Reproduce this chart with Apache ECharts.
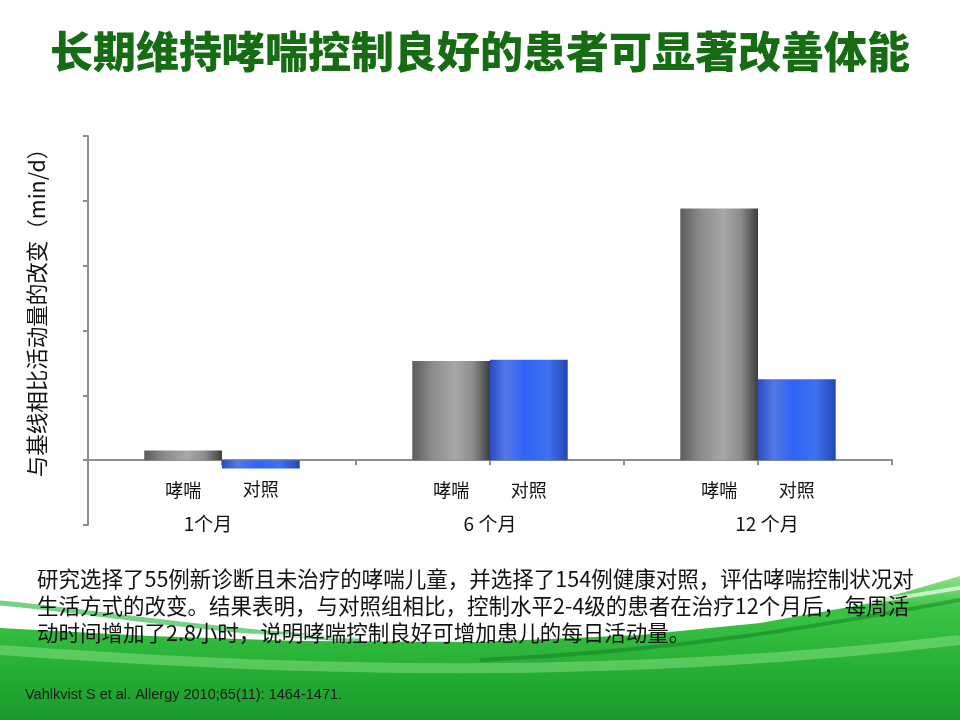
<!DOCTYPE html>
<html>
<head>
<meta charset="utf-8">
<script src="https://cdn.jsdelivr.net/npm/echarts@6/dist/echarts.min.js"></script>
<style>
  html, body { margin: 0; padding: 0; background: #fff; }
  #chart { width: 960px; height: 720px; }
</style>
</head>
<body>
<div id="chart"></div>
<script>
// 数据
const months = ['1个月', '6 个月', '12 个月']
const groupNames = ['哮喘', '对照']
const asthmaVals = [1.5, 15.3, 38.8]
const controlVals = [-1.3, 15.5, 12.5]
const yTicks = [-10, 0, 10, 20, 30, 40, 50]

const titleText = '长期维持哮喘控制良好的患者可显著改善体能'
const bodyLines = [
  '研究选择了55例新诊断且未治疗的哮喘儿童，并选择了154例健康对照，评估哮喘控制状况对',
  '生活方式的改变。结果表明，与对照组相比，控制水平2-4级的患者在治疗12个月后，每周活',
  '动时间增加了2.8小时，说明哮喘控制良好可增加患儿的每日活动量。'
]
const citation = 'Vahlkvist S et al. Allergy 2010;65(11): 1464-1471.'

const CJK = '"Noto Sans CJK SC", "Noto Sans", sans-serif'

const greyBar = {
  type: 'linear', x: 0, y: 0, x2: 1, y2: 0,
  colorStops: [
    { offset: 0, color: '#5c5c5c' },
    { offset: 0.25, color: '#8a8a8a' },
    { offset: 0.55, color: '#a8a8a8' },
    { offset: 0.78, color: '#8c8c8c' },
    { offset: 1, color: '#3e3e3e' }
  ]
}
const blueBar = {
  type: 'linear', x: 0, y: 0, x2: 1, y2: 0,
  colorStops: [
    { offset: 0, color: '#2a4cc0' },
    { offset: 0.2, color: '#5478e6' },
    { offset: 0.45, color: '#2f63f5' },
    { offset: 0.75, color: '#3f70ee' },
    { offset: 1, color: '#2446b4' }
  ]
}

// 负值柱子标签距离要短一点
function withLabelDist(vals) {
  return vals.map(v => v < 0 ? { value: v, label: { distance: 12 } } : v)
}

// 原图里两侧的月份标签略微偏离中心
const monthPad = [[0, 28, 0, 0], [0, 0, 0, 0], [0, 0, 0, 18]]
const monthData = months.map((m, i) => ({ value: m, textStyle: { padding: monthPad[i] } }))

const chart = echarts.init(document.getElementById('chart'))

const option = {
  backgroundColor: '#ffffff',
  animation: false,
  title: [
    {
      text: titleText,
      left: 'center', top: 25,
      textStyle: { fontFamily: CJK, fontSize: 43, fontWeight: 900, color: '#156c12' }
    },
    {
      text: bodyLines.join('\n'),
      left: 32, top: 560,
      textStyle: { fontFamily: CJK, fontSize: 21.5, fontWeight: 'normal', color: '#111', lineHeight: 27 }
    },
    {
      text: citation,
      left: 20, top: 682,
      textStyle: { fontFamily: '"Liberation Sans Narrow", "Liberation Sans", sans-serif', fontSize: 14.5, fontWeight: 'normal', color: '#1a1a1a' }
    }
  ],
  // 底部绿色波浪背景
  graphic: [
    {
      type: 'polygon', z: -10, silent: true,
      shape: {
        points: [[0, 628], [150, 636], [300, 641], [480, 642], [640, 635], [760, 623],
          [860, 605], [960, 576], [960, 720], [0, 720]]
      },
      style: {
        fill: {
          type: 'linear', x: 0, y: 0, x2: 0, y2: 1,
          colorStops: [
            { offset: 0, color: '#8fe38a' },
            { offset: 0.22, color: '#3cc445' },
            { offset: 0.65, color: '#25af35' },
            { offset: 1, color: '#1a9a2c' }
          ]
        }
      }
    },
    {
      type: 'bezierCurve', z: -9, silent: true,
      shape: { x1: 0, y1: 603, cpx1: 80, cpy1: 610, cpx2: 200, cpy2: 630, x2: 360, y2: 640 },
      style: { fill: null, stroke: 'rgba(60,190,80,0.7)', lineWidth: 5 }
    },
    {
      type: 'bezierCurve', z: -9, silent: true,
      shape: { x1: 0, y1: 620, cpx1: 300, cpy1: 650, cpx2: 650, cpy2: 640, x2: 960, y2: 588 },
      style: { fill: null, stroke: 'rgba(255,255,255,0.65)', lineWidth: 4 }
    },
    {
      type: 'bezierCurve', z: -9, silent: true,
      shape: { x1: 480, y1: 660, cpx1: 700, cpy1: 650, cpx2: 850, cpy2: 620, x2: 960, y2: 600 },
      style: { fill: null, stroke: 'rgba(15,120,35,0.45)', lineWidth: 4 }
    },
    {
      type: 'bezierCurve', z: -9, silent: true,
      shape: { x1: 0, y1: 650, cpx1: 300, cpy1: 672, cpx2: 620, cpy2: 680, x2: 960, y2: 640 },
      style: { fill: null, stroke: 'rgba(180,245,170,0.35)', lineWidth: 10 }
    }
  ],
  grid: { left: 88, right: 68, top: 136, bottom: 195, containLabel: false },
  xAxis: [
    {
      type: 'category',
      data: monthData,
      axisLine: { onZero: true, lineStyle: { color: '#8e8e8e', width: 2 } },
      axisTick: { show: false },
      axisLabel: { margin: -11, fontFamily: CJK, fontSize: 19, color: '#111' }
    },
    {
      // 只画刻度：每个柱子边界一个刻度
      type: 'category',
      data: ['', '', '', '', '', ''],
      position: 'bottom',
      axisLine: { show: false, onZero: true, onZeroAxisIndex: 0 },
      axisTick: { show: true, length: 5, lineStyle: { color: '#8e8e8e', width: 2 } },
      axisLabel: { show: false }
    }
  ],
  yAxis: {
    type: 'value',
    min: yTicks[0], max: yTicks[yTicks.length - 1], interval: 10,
    name: '与基线相比活动量的改变（min/d）',
    nameLocation: 'middle', nameRotate: 90, nameGap: 40,
    nameTextStyle: { fontFamily: CJK, fontSize: 21.5, color: '#111', padding: [0, 0, 0, 46] },
    axisLine: { show: true, lineStyle: { color: '#8e8e8e', width: 2 } },
    axisTick: { show: true, length: 5, lineStyle: { color: '#8e8e8e', width: 2 } },
    axisLabel: { show: false },
    splitLine: { show: false }
  },
  series: [
    {
      name: groupNames[0], type: 'bar', xAxisIndex: 0,
      data: withLabelDist(asthmaVals),
      barGap: '0%', barCategoryGap: '42%',
      itemStyle: { color: greyBar },
      label: { show: true, position: 'bottom', distance: 21, formatter: groupNames[0], fontFamily: CJK, fontSize: 18, color: '#111' }
    },
    {
      name: groupNames[1], type: 'bar', xAxisIndex: 0,
      data: withLabelDist(controlVals),
      barGap: '0%', barCategoryGap: '42%',
      itemStyle: { color: blueBar },
      label: { show: true, position: 'bottom', distance: 21, formatter: groupNames[1], fontFamily: CJK, fontSize: 18, color: '#111' }
    }
  ]
}

chart.setOption(option)
</script>
</body>
</html>
